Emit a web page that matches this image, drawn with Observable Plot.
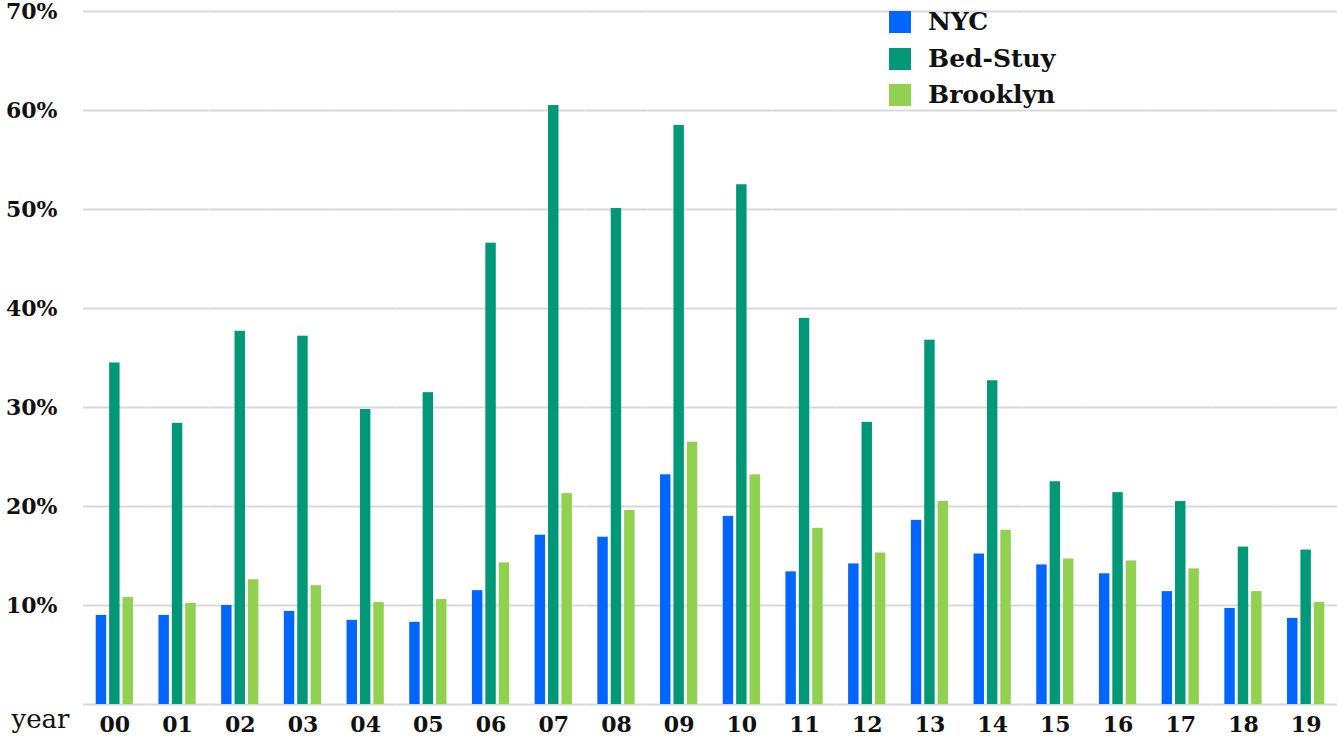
<!DOCTYPE html>
<html>
<head>
<meta charset="utf-8">
<script src="https://cdn.jsdelivr.net/npm/d3@7"></script>
<script src="https://cdn.jsdelivr.net/npm/@observablehq/plot@0.6"></script>
<style>
  html, body { margin: 0; padding: 0; background: #fff; }
  #wrap { position: relative; width: 1337px; height: 738px; font-family: "DejaVu Serif", serif; }
  #legend { position: absolute; left: 889px; top: 11px; }
  .row { display: flex; align-items: center; height: 22px; margin-bottom: 14.5px; }
  .sw { width: 22px; height: 22px; margin-right: 17px; }
  .lab { font-size: 25px; font-weight: bold; color: #111; line-height: 22px; }
</style>
</head>
<body>
<div id="wrap"></div>
<script>
const years = ["00","01","02","03","04","05","06","07","08","09","10","11","12","13","14","15","16","17","18","19"];
const series = ["NYC", "Bed-Stuy", "Brooklyn"];
const colors = ["#0066ff", "#009877", "#92d050"];
const nyc      = [9.0, 9.0, 10.0, 9.4, 8.5, 8.3, 11.5, 17.1, 16.9, 23.2, 19.0, 13.4, 14.2, 18.6, 15.2, 14.1, 13.2, 11.4, 9.7, 8.7];
const bedStuy  = [34.5, 28.4, 37.7, 37.2, 29.8, 31.5, 46.6, 60.5, 50.1, 58.5, 52.5, 39.0, 28.5, 36.8, 32.7, 22.5, 21.4, 20.5, 15.9, 15.6];
const brooklyn = [10.8, 10.2, 12.6, 12.0, 10.3, 10.6, 14.3, 21.3, 19.6, 26.5, 23.2, 17.8, 15.3, 20.5, 17.6, 14.7, 14.5, 13.7, 11.4, 10.3];
const yTicks = [10, 20, 30, 40, 50, 60, 70];
const gridValues = [0, 10, 20, 30, 40, 50, 60, 70];

const valuesBySeries = [nyc, bedStuy, brooklyn];
const data = [];
years.forEach((yr, i) => {
  series.forEach((s, j) => data.push({year: yr, series: s, value: valuesBySeries[j][i]}));
});

const font = "DejaVu Serif";
const chart = Plot.plot({
  width: 1337,
  height: 738,
  marginLeft: 83,
  marginRight: 0,
  marginTop: 11,
  marginBottom: 34,
  style: {fontFamily: font, background: "#fff", overflow: "visible"},
  fx: {domain: years, padding: 0, round: false, label: null},
  x: {domain: series, paddingInner: 0.22, paddingOuter: 0.95, round: false, axis: null},
  y: {domain: [0, 70], label: null},
  color: {domain: series, range: colors},
  marks: [
    Plot.ruleY(gridValues, {y: d => d, stroke: "#d9d9d9", strokeWidth: 2}),
    Plot.barY(data, {fx: "year", x: "series", y: "value", fill: "series"}),
    Plot.axisY(yTicks, {tickSize: 0, tickPadding: 26, tickFormat: d => d + "%", fontSize: 22, fontWeight: "bold", fill: "#111", label: null}),
    Plot.axisFx({anchor: "bottom", tickSize: 0, tickPadding: 12, fontSize: 22, fontWeight: "bold", fill: "#111", label: null}),
    Plot.text(["year"], {frameAnchor: "bottom-left", facet: "super", dx: -72, dy: 15, textAnchor: "start", lineAnchor: "middle", fontSize: 26, fill: "#111"})
  ]
});

const wrap = document.getElementById("wrap");
wrap.appendChild(chart);

const legend = document.createElement("div");
legend.id = "legend";
series.forEach((s, j) => {
  const row = document.createElement("div");
  row.className = "row";
  const sw = document.createElement("div");
  sw.className = "sw";
  sw.style.background = colors[j];
  const lab = document.createElement("span");
  lab.className = "lab";
  lab.textContent = s;
  row.appendChild(sw);
  row.appendChild(lab);
  legend.appendChild(row);
});
wrap.appendChild(legend);
</script>
</body>
</html>
